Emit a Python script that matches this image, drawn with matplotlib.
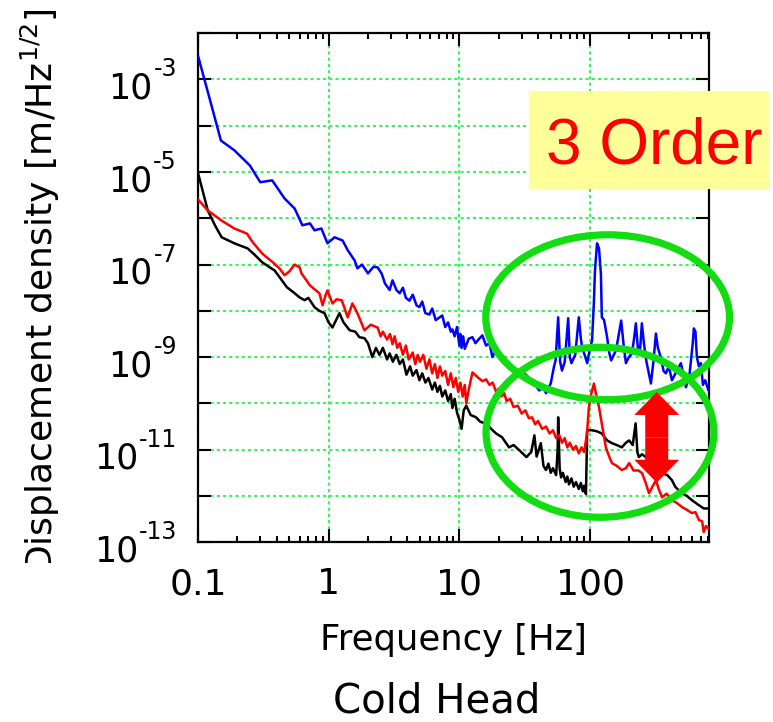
import numpy as np
import matplotlib
matplotlib.use("Agg")
import matplotlib.pyplot as plt
from matplotlib.patches import Ellipse, Rectangle, FancyArrow
from matplotlib.ticker import LogLocator, NullFormatter, NullLocator
from matplotlib.transforms import Bbox, TransformedBbox

# --- data: (frequency in Hz, log10 of displacement) ---
blue_pts = [
    (0.10, -2.48), (0.124, -3.45), (0.15, -4.32), (0.19, -4.53), (0.25, -4.86),
    (0.30, -5.22), (0.37, -5.18), (0.46, -5.57), (0.55, -5.79), (0.63, -6.15),
    (0.72, -6.11), (0.78, -6.26), (0.88, -6.22), (0.98, -6.54), (1.11, -6.41),
    (1.28, -6.48), (1.40, -6.69), (1.58, -6.91), (1.66, -7.08), (1.80, -7.00),
    (2.0, -7.19), (2.2, -7.05), (2.37, -7.06), (2.55, -7.20), (2.7, -7.41),
    (2.93, -7.55), (3.08, -7.34), (3.3, -7.55), (3.5, -7.62), (3.7, -7.50),
    (3.9, -7.72), (4.15, -7.78), (4.4, -7.65), (4.7, -7.88), (4.95, -7.92),
    (5.2, -7.80), (5.5, -8.05), (5.9, -8.08), (6.2, -7.95), (6.6, -8.20),
    (7.0, -8.15), (7.4, -8.10), (7.8, -8.35), (8.2, -8.25), (8.6, -8.45),
    (8.85, -8.40), (9.2, -8.55), (9.6, -8.35), (10.0, -8.75), (10.2, -8.50),
    (10.4, -8.80), (10.7, -8.55), (11.0, -8.82), (11.8, -8.60), (12.6, -8.57),
    (13.3, -8.70), (14.0, -8.62), (15.0, -8.53), (16.0, -8.75), (17.0, -8.70),
    (17.9, -9.00), (18.7, -8.88), (19.5, -8.95), (21.2, -9.07), (22.0, -9.00),
    (23.0, -9.15), (25.0, -9.25), (27.0, -9.35), (30.0, -9.30), (34.0, -9.44),
    (37.0, -9.55), (40.8, -9.72), (44.0, -9.65), (46.0, -9.78), (50.0, -9.57),
    (53.0, -9.20), (54.5, -9.07), (57.0, -8.14), (59.0, -9.10), (61.0, -9.29),
    (64.0, -9.10), (68.0, -8.16), (70.0, -9.00), (72.0, -9.13), (77.0, -8.95),
    (82.0, -8.14), (85.0, -8.60), (87.0, -8.79), (92.0, -9.00), (95.0, -9.13),
    (100.0, -8.80), (103.6, -8.64), (107, -7.80), (109, -7.13), (113, -6.54),
    (117, -6.65), (121, -7.20), (123, -8.14), (128, -8.20), (135, -8.57),
    (140, -8.90), (145, -9.07), (152, -8.95), (158, -8.85), (166, -8.50),
    (173, -8.21), (180, -8.70), (188, -9.13), (198, -9.00), (209, -8.92),
    (217, -8.60), (224, -8.27), (232, -8.80), (240, -8.92), (249, -8.27),
    (258, -8.70), (270, -9.10), (292, -9.57), (305, -9.10), (319, -8.49),
    (330, -8.80), (347, -9.00), (365, -9.30), (380, -9.35), (400, -9.20),
    (423, -9.50), (450, -9.35), (495, -9.13), (520, -9.40), (541, -9.65),
    (575, -9.40), (610, -8.70), (622, -8.38), (640, -8.45), (656, -9.00),
    (680, -9.20), (703, -9.13), (730, -9.60), (760, -9.50), (800, -9.70),
]

red_pts = [
    (0.10, -5.59), (0.119, -5.83), (0.152, -6.05), (0.19, -6.22), (0.237, -6.33),
    (0.263, -6.52), (0.31, -6.76), (0.374, -6.95), (0.42, -7.08), (0.46, -7.23),
    (0.50, -7.15), (0.55, -7.00), (0.60, -7.06), (0.62, -7.19), (0.72, -7.45),
    (0.85, -7.62), (0.90, -7.88), (0.95, -7.65), (0.98, -7.56), (1.07, -7.84),
    (1.15, -7.75), (1.26, -7.77), (1.40, -8.14), (1.52, -7.84), (1.66, -8.05),
    (1.88, -8.42), (2.1, -8.30), (2.37, -8.36), (2.5, -8.55), (2.6, -8.45),
    (2.8, -8.62), (2.95, -8.50), (3.08, -8.72), (3.2, -8.55), (3.35, -8.80),
    (3.5, -8.70), (3.7, -8.95), (3.9, -8.75), (4.1, -9.05), (4.4, -8.90),
    (4.6, -9.15), (4.8, -8.95), (5.0, -9.10), (5.3, -8.95), (5.6, -9.25),
    (5.9, -9.05), (6.2, -9.35), (6.5, -9.15), (6.8, -9.45), (7.1, -9.20),
    (7.4, -9.40), (7.8, -9.30), (8.2, -9.60), (8.6, -9.35), (9.0, -9.65),
    (9.4, -9.45), (9.8, -9.75), (10.2, -9.55), (10.6, -9.85), (11.0, -9.60),
    (11.3, -10.00), (11.8, -9.70), (12.6, -9.33), (14.0, -9.45), (15.0, -9.52),
    (16.0, -9.48), (17.0, -9.60), (18.0, -9.55), (19.1, -9.75), (20.0, -9.68),
    (21.0, -9.85), (22.0, -9.78), (23.0, -9.95), (24.5, -9.90), (26.0, -10.08),
    (28.0, -10.05), (30.0, -10.22), (32.0, -10.15), (34.0, -10.32), (36.0, -10.30),
    (38.0, -10.45), (40.0, -10.38), (43.0, -10.55), (46.0, -10.50), (49.0, -10.65),
    (52.0, -10.58), (55.0, -10.75), (58.0, -10.68), (61.0, -10.85), (64.0, -10.75),
    (67.0, -10.95), (70.0, -10.85), (74.0, -11.00), (78.0, -10.92), (82.0, -11.08),
    (86.0, -10.95), (90.0, -11.05), (93.0, -10.80), (95.0, -10.60), (98.0, -10.08),
    (102.0, -9.80), (107.0, -9.57), (112.0, -9.85), (117.0, -10.08), (124.0, -10.50),
    (132.0, -10.95), (140.0, -11.15), (147.0, -11.29), (160, -11.35), (175, -11.44),
    (188, -11.40), (199, -11.29), (215, -11.45), (235, -11.45), (250, -11.51),
    (265, -11.70), (282, -11.94), (300, -11.80), (319, -11.66), (335, -11.85),
    (355, -12.03), (385, -11.95), (423, -12.09), (460, -12.15), (505, -12.24),
    (550, -12.30), (600, -12.37), (640, -12.35), (680, -12.52), (720, -12.55),
    (740, -12.78), (770, -12.65), (800, -12.70),
]

black_pts = [
    (0.10, -5.01), (0.119, -5.83), (0.135, -6.15), (0.152, -6.41), (0.19, -6.54),
    (0.24, -6.65), (0.27, -6.78), (0.31, -6.95), (0.387, -7.13), (0.48, -7.49),
    (0.55, -7.62), (0.60, -7.71), (0.656, -7.77), (0.70, -7.72), (0.78, -7.92),
    (0.85, -8.00), (0.93, -8.05), (1.0, -8.25), (1.07, -8.36), (1.21, -8.05),
    (1.3, -8.25), (1.45, -8.42), (1.6, -8.45), (1.72, -8.57), (1.88, -8.59),
    (2.0, -8.70), (2.16, -9.00), (2.3, -8.80), (2.45, -8.95), (2.6, -8.80),
    (2.8, -9.05), (2.93, -8.92), (3.1, -9.10), (3.3, -8.95), (3.5, -9.15),
    (3.7, -9.05), (3.94, -9.38), (4.2, -9.20), (4.4, -9.40), (4.7, -9.28),
    (4.95, -9.50), (5.2, -9.35), (5.5, -9.55), (5.8, -9.45), (6.2, -9.70),
    (6.5, -9.55), (6.8, -9.75), (7.1, -9.62), (7.4, -9.85), (7.8, -9.72),
    (8.2, -9.95), (8.6, -9.80), (8.85, -10.10), (9.2, -9.90), (9.6, -10.20),
    (10.0, -10.35), (10.4, -10.55), (10.8, -10.15), (11.3, -10.05), (12.2, -10.25),
    (13.4, -10.30), (14.5, -10.40), (16.0, -10.43), (17.5, -10.55), (19.1, -10.65),
    (21.2, -10.73), (24.0, -10.95), (26.0, -10.90), (28.7, -11.01), (32.6, -11.16),
    (35.5, -11.05), (37.5, -10.69), (39.0, -11.15), (42.0, -10.86), (44.0, -11.35),
    (46.0, -11.44), (48.0, -11.30), (50.0, -11.50), (52.0, -11.40), (55.0, -11.55),
    (56.5, -11.00), (57.0, -10.30), (58.5, -11.40), (60.0, -11.60), (62.0, -11.50),
    (65.0, -11.70), (67.0, -11.58), (69.0, -11.75), (72.0, -11.62), (75.0, -11.80),
    (78.0, -11.70), (82.0, -11.85), (85.0, -11.72), (88.0, -11.90), (90.0, -11.78),
    (93.0, -11.96), (95.0, -10.58), (103.0, -10.58), (112.0, -10.60), (123.0, -10.65),
    (135.0, -10.80), (147.0, -10.86), (160.0, -10.90), (175.0, -10.95),
    (188.0, -10.85), (199.0, -10.80), (212.0, -10.90), (223.0, -10.43),
    (230.0, -11.05), (236.0, -11.16), (250.0, -11.10), (267.0, -11.16),
    (290.0, -11.25), (319.0, -11.38), (355.0, -11.51), (390.0, -11.55),
    (423.0, -11.66), (450.0, -11.81), (505.0, -11.94), (550.0, -12.00),
    (600.0, -12.09), (680.0, -12.20), (740.0, -12.27), (800.0, -12.27),
]

x_ticks = [0.1, 1, 10, 100]
x_labels = ["0.1", "1", "10", "100"]
y_label_exps = [-13, -11, -9, -7, -5, -3]

GRID_GREEN = "#3cf25e"
RING_GREEN = "#11dd11"


def unpack(pts):
    f, lg = zip(*pts)
    return np.array(f), 10.0 ** np.array(lg)


fig = plt.figure(figsize=(7.73, 7.22), dpi=100)
ax = fig.add_axes([0.256, 0.249, 0.661, 0.705])

ax.loglog(*unpack(black_pts), color="black", lw=1.8, zorder=3)
ax.loglog(*unpack(red_pts), color="#ff0000", lw=1.8, zorder=4)
ax.loglog(*unpack(blue_pts), color="#0000ff", lw=1.8, zorder=5)

ax.set_xlim(0.1, 810)
ax.set_ylim(1e-13, 1e-2)

# ticks
ax.set_xticks(x_ticks)
ax.set_xticklabels(x_labels)
ax.yaxis.set_major_locator(LogLocator(base=10, subs=(1.0,), numticks=40))
ax.yaxis.set_minor_locator(NullLocator())
ax.yaxis.set_major_formatter(NullFormatter())
ax.tick_params(which="both", direction="in", top=True, right=True, width=1.5)
ax.tick_params(which="major", length=9.5)
ax.tick_params(which="minor", length=4.5)
ax.tick_params(axis="x", which="major", labelsize=26, pad=18)
for s in ax.spines.values():
    s.set_linewidth(1.6)

# y tick labels: big "10" with a small raised exponent
ytrans = ax.get_yaxis_transform()
for e in y_label_exps:
    sup = ax.annotate(str(e), xy=(0, 10.0 ** e), xycoords=ytrans,
                      xytext=(-15, 2.2), textcoords="offset points",
                      ha="right", va="baseline", fontsize=17)
    ax.annotate("10", xy=(0, 10.0 ** e), xycoords=(sup, ytrans),
                xytext=(-0.5, -13.7), textcoords="offset points",
                ha="right", va="baseline", fontsize=25)

ax.grid(True, which="major", color=GRID_GREEN, linestyle=(0, (1.5, 1.5)), lw=1.5)
ax.set_axisbelow(True)

# annotations: green rings and red double arrow
ax.add_patch(Ellipse((0.802, 0.442), 0.477, 0.324, transform=ax.transAxes,
                     fill=False, ec=RING_GREEN, lw=5.2, zorder=6, clip_on=False))
ax.add_patch(Ellipse((0.787, 0.216), 0.446, 0.334, transform=ax.transAxes,
                     fill=False, ec=RING_GREEN, lw=5.2, zorder=6, clip_on=False))
for y0, dy in [(0.206, 0.089), (0.206, -0.089)]:
    ax.add_patch(FancyArrow(0.898, y0, 0, dy, width=0.045, head_width=0.088,
                            head_length=0.045, length_includes_head=True,
                            transform=ax.transAxes, color="#ff0000", lw=0,
                            zorder=7, clip_on=False))

# "3 Order" box
fig.add_artist(Rectangle((0.684, 0.738), 0.311, 0.136, transform=fig.transFigure,
                         fc="#ffff99", ec="none", zorder=8))
fig.text(0.706, 0.774, "3 Order", fontsize=46, color="#ff0000",
         family="Liberation Sans", ha="left", va="baseline", zorder=9)

# axis labels
ylab_txt = fig.text(0.052, 0.598, r"Displacement density [m/Hz$^{1/2}$]",
                    rotation=90, ha="center", va="center", fontsize=26)
ylab_txt.set_clip_on(True)
ylab_txt.set_clip_box(TransformedBbox(Bbox([[0, 0.22], [1, 1]]), fig.transFigure))
fig.text(0.586, 0.114, "Frequency [Hz]", ha="center", va="center", fontsize=25.5)
fig.text(0.565, 0.0125, "Cold Head", ha="center", va="baseline", fontsize=29)

fig.savefig("out.png", dpi=100)
